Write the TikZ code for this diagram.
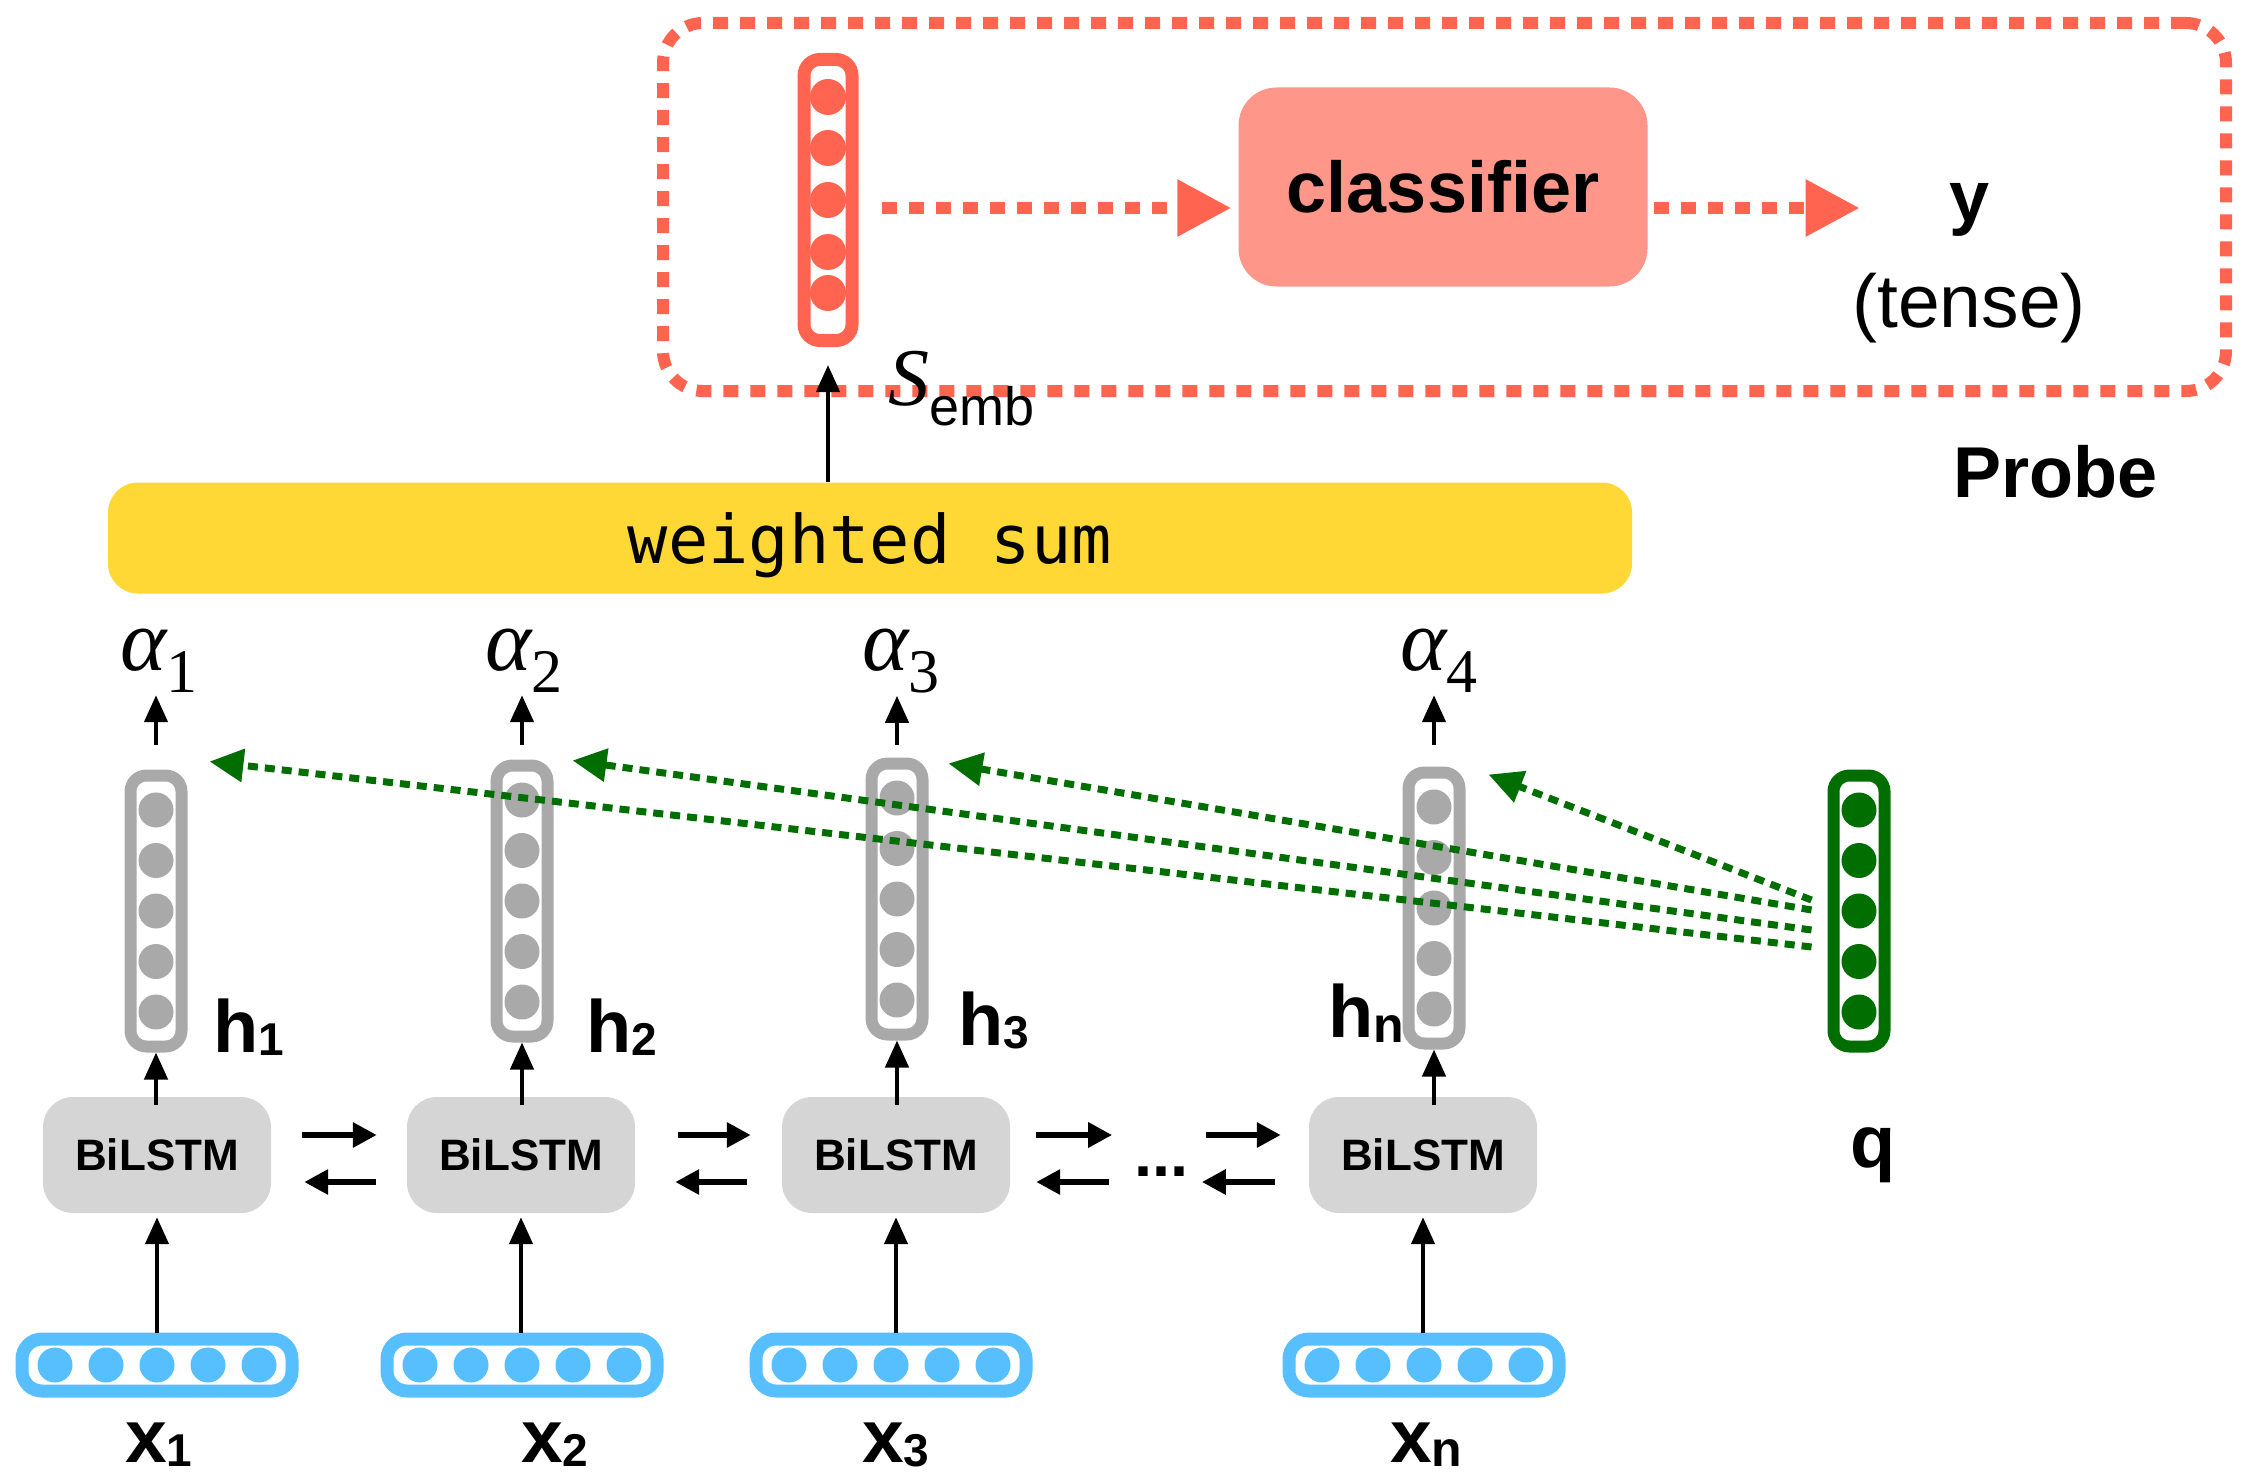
\documentclass[tikz,border=0pt]{standalone}
\usepackage{fontspec}
\setmainfont{Liberation Sans}
\newfontfamily\tms{Liberation Serif}
\setmonofont{DejaVu Sans Mono}
\usetikzlibrary{arrows.meta,calc}
\definecolor{pred}{HTML}{FF6450}
\definecolor{psalmon}{HTML}{FF968A}
\definecolor{wyellow}{HTML}{FFD835}
\definecolor{lgray}{HTML}{D5D5D5}
\definecolor{vgray}{HTML}{A9A9A9}
\definecolor{xblue}{HTML}{58BFFF}
\definecolor{qgreen}{HTML}{006E00}
\newcommand\fs[1]{\fontsize{#1}{#1}\selectfont}
\newcommand\lowsub[2]{\raisebox{-#1}{#2}}
\begin{document}
\begin{tikzpicture}[x=1pt,y=-1pt,
  vecbox/.style={draw, fill=white, inner sep=0pt, rounded corners=16pt},
  hvec/.style={vecbox, draw=vgray, line width=12pt, minimum width=51pt, minimum height=271pt},
  qvec/.style={vecbox, draw=qgreen, line width=12pt, minimum width=51pt, minimum height=271pt},
  svec/.style={vecbox, draw=pred, line width=13pt, minimum width=48pt, minimum height=281pt},
  xvec/.style={vecbox, draw=xblue, line width=13pt, minimum width=270pt, minimum height=52pt, rounded corners=20pt},
  lstm/.style={fill=lgray, rounded corners=30pt, minimum width=228pt, minimum height=116pt, inner sep=0pt, font=\fs{44}\bfseries},
  lab/.style={inner sep=0pt, anchor=base west, font=\fs{74}\bfseries},
  alab/.style={inner sep=0pt, anchor=base west},
  varr/.style={line width=4.5pt, -{Triangle[length=27pt,width=23pt]}},
  harr/.style={line width=6pt, -{Triangle[length=24pt,width=24pt]}},
  garr/.style={draw=qgreen, line width=7pt, dash pattern=on 10pt off 7pt, -{Triangle[length=34pt,width=32pt]}},
  rarr/.style={draw=pred, line width=12pt, dash pattern=on 15pt off 12pt, -{Triangle[length=54pt,width=54pt]}},
  probebox/.style={draw=pred, line width=12pt, dash pattern=on 15pt off 12pt, rounded corners=40pt, minimum width=1563pt, minimum height=368pt, inner sep=0pt},
]
\useasboundingbox (0,0) rectangle (2252,1474);

% ---------- probe ----------
\node[probebox] (probe) at (1444.5,207) {};
\node[svec] (sv) at (828,200) {};
\foreach \yy in {97,148,200,252,293} \fill[pred] (828,\yy) circle[radius=18pt];
\node[fill=psalmon, rounded corners=38pt, minimum width=409pt, minimum height=199pt, inner sep=0pt, font=\fs{72}\bfseries] (cls) at (1443,187) {classifier};
\node[lab, font=\fs{72}\bfseries] (ylab) at (1949,222) {y};
\node[inner sep=0pt, anchor=base, font=\fs{75}] (tense) at (1969,327) {(tense)};
\node[lab, font=\fs{72}\bfseries] (probelab) at (1953,497) {Probe};
\draw[rarr] ([xshift=23pt,yshift=-8pt]sv.east) -- ([xshift=-7pt,yshift=-21pt]cls.west);
\draw[rarr] ([xshift=6pt,yshift=-21pt]cls.east) -- ([xshift=212pt,yshift=-21pt]cls.east);
\node[alab] (semb) at (888,405) {{\tms\itshape\fs{82}S}\lowsub{20pt}{\fs{54}emb}};

% ---------- weighted sum ----------
\node[fill=wyellow, rounded corners=30pt, minimum width=1524pt, minimum height=111pt, inner sep=0pt, text height=60pt, text depth=10pt, font=\fs{67}\ttfamily] (ws) at (870,538) {weighted sum};
\draw[varr, shorten >=18pt] (ws.north -| sv.south) -- (sv.south);

% ---------- hidden vectors ----------
\node[hvec] (h1) at (156,911) {};
\node[hvec] (h2) at (522,901) {};
\node[hvec] (h3) at (897,899) {};
\node[hvec] (hn) at (1434,908) {};
\node[qvec] (q) at (1859,911) {};
\foreach \n in {h1,h2,h3,hn}
  \foreach \k in {-2,...,2} \fill[vgray] ($(\n)+(0,\k*50.5)$) circle[radius=17.5pt];
\foreach \k in {-2,...,2} \fill[qgreen] ($(q)+(0,\k*50.5)$) circle[radius=17.5pt];

\node[lab] (lh1) at (213,1052) {h\lowsub{3pt}{\fs{46}1}};
\node[lab] (lh2) at (586,1052) {h\lowsub{3pt}{\fs{46}2}};
\node[lab] (lh3) at (958,1045) {h\lowsub{3pt}{\fs{46}3}};
\node[lab] (lhn) at (1328,1037) {h\lowsub{5pt}{\fs{50}n}};
\node[lab] (lq) at (1850,1167) {q};

% ---------- alphas ----------
\node[alab] (a1) at (120,670) {{\tms\itshape\fs{88}α}\lowsub{22pt}{\tms\fs{62}1}};
\node[alab] (a2) at (485,670) {{\tms\itshape\fs{88}α}\lowsub{22pt}{\tms\fs{62}2}};
\node[alab] (a3) at (862,670) {{\tms\itshape\fs{88}α}\lowsub{22pt}{\tms\fs{62}3}};
\node[alab] (a4) at (1400,670) {{\tms\itshape\fs{88}α}\lowsub{22pt}{\tms\fs{62}4}};
\draw[varr, shorten <=25pt, shorten >=3pt] (h1.north) -- (h1.north |- a1.south);
\draw[varr, shorten <=15pt, shorten >=3pt] (h2.north) -- (h2.north |- a2.south);
\draw[varr, shorten <=13pt, shorten >=3pt] (h3.north) -- (h3.north |- a3.south);
\draw[varr, shorten <=22pt, shorten >=3pt] (hn.north) -- (hn.north |- a4.south);

% ---------- BiLSTMs ----------
\node[lstm] (b1) at (157,1155) {BiLSTM};
\node[lstm] (b2) at (521,1155) {BiLSTM};
\node[lstm] (b3) at (896,1155) {BiLSTM};
\node[lstm] (b4) at (1423,1155) {BiLSTM};
\node[inner sep=0pt, anchor=base west, font=\fs{65}\bfseries] (dots) at (1134,1176) {...};

\draw[harr] ([xshift=31pt,yshift=20pt]b1.east) -- ([xshift=-30pt,yshift=20pt]b2.west);
\draw[harr] ([xshift=-31pt,yshift=-27pt]b2.west) -- ([xshift=33pt,yshift=-27pt]b1.east);
\draw[harr] ([xshift=43pt,yshift=20pt]b2.east) -- ([xshift=-31pt,yshift=20pt]b3.west);
\draw[harr] ([xshift=-35pt,yshift=-27pt]b3.west) -- ([xshift=40pt,yshift=-27pt]b2.east);
\draw[harr] ([xshift=26pt,yshift=20pt]b3.east) -- ([xshift=102pt,yshift=20pt]b3.east);
\draw[harr] ([xshift=99pt,yshift=-27pt]b3.east) -- ([xshift=26pt,yshift=-27pt]b3.east);
\draw[harr] ([xshift=-103pt,yshift=20pt]b4.west) -- ([xshift=-28pt,yshift=20pt]b4.west);
\draw[harr] ([xshift=-34pt,yshift=-27pt]b4.west) -- ([xshift=-107pt,yshift=-27pt]b4.west);

\draw[varr, shorten <=-8pt] (h1.south |- b1.north) -- (h1.south);
\draw[varr, shorten <=-8pt] (h2.south |- b2.north) -- (h2.south);
\draw[varr, shorten <=-8pt] (h3.south |- b3.north) -- (h3.south);
\draw[varr, shorten <=-8pt] (hn.south |- b4.north) -- (hn.south);

% ---------- inputs ----------
\node[xvec] (x1) at (157,1365) {};
\node[xvec] (x2) at (522,1365) {};
\node[xvec] (x3) at (891,1365) {};
\node[xvec] (xn) at (1424,1365) {};
\foreach \n in {x1,x2,x3,xn}
  \foreach \k in {-2,...,2} \fill[xblue] ($(\n)+(\k*51,0)$) circle[radius=17.5pt];
\draw[varr, shorten >=4pt] (b1.south |- x1.north) -- (b1.south);
\draw[varr, shorten >=4pt] (b2.south |- x2.north) -- (b2.south);
\draw[varr, shorten >=4pt] (b3.south |- x3.north) -- (b3.south);
\draw[varr, shorten >=4pt] (b4.south |- xn.north) -- (b4.south);

\node[lab, font=\fs{75}\bfseries] (lx1) at (125,1462) {x\lowsub{4pt}{\fs{46}1}};
\node[lab, font=\fs{75}\bfseries] (lx2) at (521,1462) {x\lowsub{4pt}{\fs{46}2}};
\node[lab, font=\fs{75}\bfseries] (lx3) at (862,1462) {x\lowsub{4pt}{\fs{46}3}};
\node[lab, font=\fs{75}\bfseries] (lxn) at (1390,1462) {x\lowsub{4pt}{\fs{50}n}};

% ---------- attention (green) ----------
\draw[garr] ([xshift=-16pt,yshift=-36pt]q.west) -- ([xshift=22pt,yshift=8pt]h1.north east);
\draw[garr] ([xshift=-16pt,yshift=-19pt]q.west) -- ([xshift=19pt,yshift=-1pt]h2.north east);
\draw[garr] ([xshift=-16pt,yshift=1pt]q.west) -- ([xshift=20pt,yshift=-6pt]h3.north east);
\draw[garr] ([xshift=-16pt,yshift=11pt]q.west) -- ([xshift=23pt,yshift=-8pt]hn.north east);
\end{tikzpicture}
\end{document}
